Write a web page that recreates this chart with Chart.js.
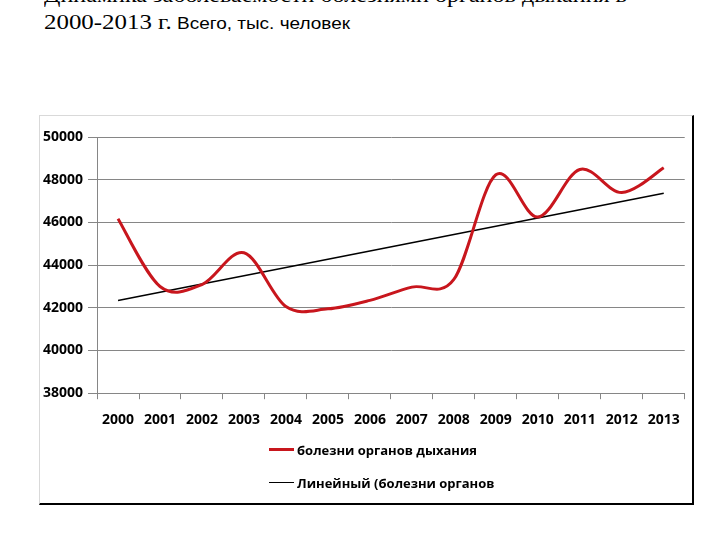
<!DOCTYPE html>
<html>
<head>
<meta charset="utf-8">
<script src="https://cdn.jsdelivr.net/npm/chart.js@4/dist/chart.umd.min.js"></script>
<style>
  html, body { margin: 0; padding: 0; background: #fff; }
  body { width: 720px; height: 540px; position: relative; overflow: hidden; }
  .title { position: absolute; left: 44px; white-space: nowrap; color: #000; transform-origin: 0 0; }
  #title1 { top: -18px; font: 22px "Liberation Serif", "Times New Roman", serif; }
  #title2 { top: 10px; }
  #title2 .serif { font: 21px "Liberation Serif", "Times New Roman", serif; }
  #title2 .sans { font: 16px "Liberation Sans", Arial, sans-serif; }
  #frame { position: absolute; left: 39px; top: 115px; width: 652px; height: 387px;
           border-top: 1px solid #d9d9d9; border-left: 1px solid #d9d9d9;
           border-right: 2px solid #000; border-bottom: 2px solid #000; }
  #chart_box { position: absolute; left: 36px; top: 116px; width: 656px; height: 324px; }
  #legend { position: absolute; left: 269px; top: 433px; font: bold 13px "Open Sans", sans-serif; color: #000; }
  .legend_item { height: 33px; display: flex; align-items: center; white-space: nowrap; }
  .legend_line { width: 25px; margin-right: 3px; }
</style>
</head>
<body>
<div class="title" id="title1">Динамика заболеваемости болезнями органов дыхания в</div>
<div class="title" id="title2"><span class="serif">2000-2013 г.</span><span class="sans"> Всего, тыс. человек</span></div>
<div id="frame"></div>
<div id="chart_box"><canvas id="chart"></canvas></div>
<div id="legend"></div>
<script>
// data
var years = ["2000","2001","2002","2003","2004","2005","2006","2007","2008","2009","2010","2011","2012","2013"];
var respiratory = [46170, 43000, 43090, 44580, 42060, 41950, 42350, 42970, 43330, 48230, 46250, 48480, 47400, 48560];
var trend_start = 42340;
var trend_end = 47370;
var series_name = "болезни органов дыхания";
var trend_name = "Линейный (болезни органов";
var y_min = 38000, y_max = 50000, y_step = 2000;

// squeeze the title lines to the width they have on the slide
var fit_width = function(id, target) {
  var el = document.getElementById(id);
  var w = el.getBoundingClientRect().width;
  el.style.transform = "scaleX(" + (target / w) + ")";
};
fit_width("title1", 583);
fit_width("title2", 306);

var trend_values = years.map(function(y, i) {
  if (i == 0) return trend_start;
  if (i == years.length - 1) return trend_end;
  return null;
});

// Excel-like smoothing: plain catmull-rom control points (1/6 of neighbour span),
// set after chart.js computed its own ones
var excel_smooth = {
  id: "excel_smooth",
  beforeDatasetsDraw: function(chart) {
    var pts = chart.getDatasetMeta(0).data;
    for (let i = 0; i < pts.length; i++) {
      let prev = pts[Math.max(i - 1, 0)];
      let next = pts[Math.min(i + 1, pts.length - 1)];
      let dx = (next.x - prev.x) / 6;
      let dy = (next.y - prev.y) / 6;
      pts[i].cp1x = pts[i].x - dx;
      pts[i].cp1y = pts[i].y - dy;
      pts[i].cp2x = pts[i].x + dx;
      pts[i].cp2y = pts[i].y + dy;
    }
  }
};

var grid_color = "#868686";
var tick_font = { family: "Open Sans", weight: "bold", size: 14 };

var chart = new Chart("chart", {
  type: "line",
  data: {
    labels: years,
    datasets: [
      {
        label: series_name,
        data: respiratory,
        borderColor: "#c8161d",
        backgroundColor: "#c8161d",
        borderWidth: 3,
        tension: 0.4,
        pointRadius: 0,
        fill: false
      },
      {
        label: trend_name,
        data: trend_values,
        borderColor: "#000",
        backgroundColor: "#000",
        borderWidth: 1.5,
        spanGaps: true,
        tension: 0,
        pointRadius: 0,
        fill: false
      }
    ]
  },
  plugins: [excel_smooth],
  options: {
    responsive: true,
    maintainAspectRatio: false,
    animation: false,
    layout: { padding: { left: 2, right: 7, top: 21, bottom: 0 } },
    plugins: { legend: { display: false }, tooltip: { enabled: false } },
    scales: {
      x: {
        offset: true,
        grid: {
          offset: true,
          color: function(ctx) { return ctx.index == years.length ? grid_color : "rgba(0,0,0,0)"; },
          tickColor: grid_color,
          tickLength: 6
        },
        border: { color: grid_color },
        ticks: { color: "#000", font: tick_font, padding: 12, maxRotation: 0, autoSkip: false }
      },
      y: {
        min: y_min,
        max: y_max,
        grid: { color: grid_color, tickLength: 9 },
        border: { color: grid_color },
        ticks: {
          stepSize: y_step,
          color: "#000",
          font: tick_font,
          padding: 5,
          callback: function(v) { return String(v); }
        }
      }
    }
  }
});

// legend in two rows, as on the slide
var legend_div = document.getElementById("legend");
chart.data.datasets.forEach(function(ds) {
  var item = document.createElement("div");
  item.className = "legend_item";
  var line = document.createElement("div");
  line.className = "legend_line";
  line.style.borderTop = ds.borderWidth + "px solid " + ds.borderColor;
  var text = document.createElement("span");
  text.textContent = ds.label;
  item.appendChild(line);
  item.appendChild(text);
  legend_div.appendChild(item);
});
</script>
</body>
</html>
